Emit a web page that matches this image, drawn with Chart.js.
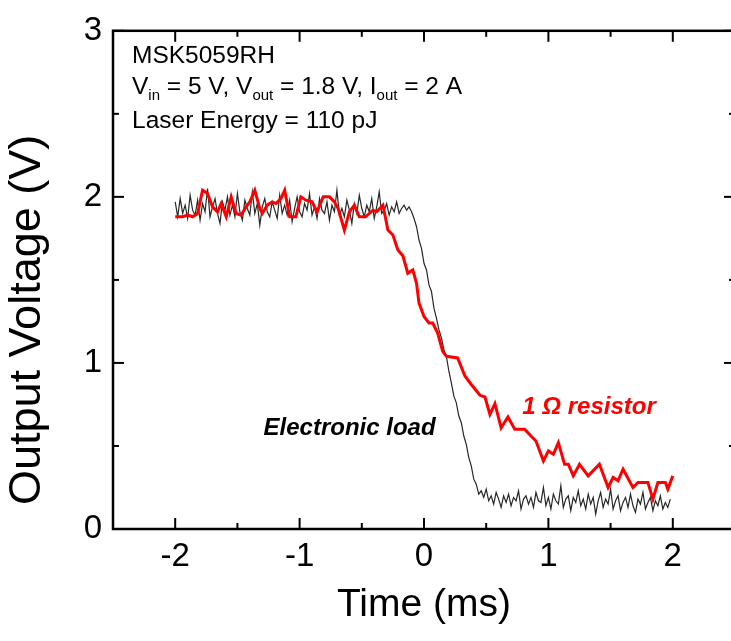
<!DOCTYPE html>
<html><head><meta charset="utf-8">
<script src="https://cdn.jsdelivr.net/npm/chart.js@4.4.1/dist/chart.umd.min.js"></script>
<style>
html,body{margin:0;padding:0;background:#fff;overflow:hidden;}
#wrap{position:relative;width:740px;height:641px;}
</style></head><body>
<div id="wrap"><canvas id="c" width="740" height="641"></canvas></div>
<script>
// ---- data ----
const xTicks = [-2, -1, 0, 1, 2];
const yTicks = [0, 1, 2, 3];
const xMinorTicks = [-1.5, -0.5, 0.5, 1.5];
const yMinorTicks = [0.5, 1.5, 2.5];

// 1 Ω resistor (red)
const redTime = [-2.00,-1.94,-1.90,-1.86,-1.82,-1.78,-1.74,-1.70,-1.66,-1.63,-1.59,-1.55,-1.51,-1.47,-1.43,-1.40,-1.36,-1.32,-1.30,-1.26,-1.22,-1.19,-1.15,-1.12,-1.08,-1.03,-0.99,-0.95,-0.90,-0.86,-0.81,-0.76,-0.72,-0.69,-0.64,-0.60,-0.56,-0.52,-0.47,-0.41,-0.38,-0.33,-0.29,-0.25,-0.21,-0.17,-0.13,-0.09,-0.06,-0.04,0.00,0.04,0.07,0.11,0.15,0.18,0.27,0.33,0.38,0.45,0.49,0.53,0.57,0.62,0.675,0.73,0.81,0.86,0.90,0.96,1.00,1.04,1.08,1.13,1.16,1.20,1.25,1.32,1.41,1.48,1.52,1.56,1.60,1.68,1.72,1.80,1.84,1.88,1.94,1.96,2.00];
const redVolt = [1.88,1.88,1.89,1.88,1.90,2.04,2.02,1.94,1.91,1.96,1.88,2.00,1.90,1.89,1.94,1.97,2.04,1.93,1.90,1.95,1.97,1.96,1.99,2.04,1.88,1.88,2.00,1.98,1.97,1.91,2.00,2.00,1.97,1.93,1.80,1.91,1.95,1.88,1.88,1.92,1.91,1.95,1.80,1.77,1.68,1.645,1.54,1.56,1.48,1.36,1.28,1.24,1.24,1.18,1.07,1.04,1.03,0.92,0.87,0.805,0.795,0.69,0.755,0.61,0.675,0.60,0.60,0.56,0.53,0.41,0.47,0.45,0.52,0.39,0.39,0.32,0.39,0.32,0.39,0.25,0.31,0.29,0.36,0.25,0.28,0.28,0.18,0.28,0.28,0.24,0.32];

// Electronic load (black), sampled every 0.02 ms from -2.00 ms
const blackStart = -2.0;
const blackStep = 0.02;
const blackVolt = [
1.97,1.88,1.99,1.90,1.95,1.87,2.01,1.92,1.89,1.98,
1.86,1.96,1.91,2.05,1.88,1.94,1.99,1.90,1.84,1.97,
1.92,2.00,1.89,1.95,1.88,2.02,1.91,1.86,1.98,1.93,
1.89,2.03,1.90,1.96,1.83,1.94,1.99,1.91,1.88,1.97,
1.92,1.87,2.01,1.90,1.95,1.89,1.98,1.85,1.93,2.00,
1.91,1.88,1.96,1.92,2.02,1.89,1.94,1.87,1.99,1.92,
1.90,1.97,1.86,1.95,1.91,2.04,1.89,1.93,1.88,1.98,
1.92,1.84,1.96,1.90,2.01,1.93,1.88,1.95,1.91,1.99,
1.87,1.94,2.03,1.90,1.92,1.96,1.89,1.94,1.91,1.97,
1.90,1.93,1.95,1.92,1.94,1.91,
1.87,1.82,1.74,1.69,1.60,1.56,1.47,1.43,1.33,1.27,
1.20,1.15,1.08,1.04,0.95,0.88,0.80,0.76,0.68,0.64,
0.56,0.51,0.43,0.38,0.30,0.27,0.21,0.23,
0.19,0.24,0.17,0.20,0.15,0.22,0.18,0.13,0.20,0.16,
0.21,0.14,0.19,0.17,0.23,0.12,0.18,0.20,0.15,0.19,
0.13,0.22,0.17,0.16,0.25,0.14,0.19,0.12,0.21,0.17,
0.15,0.26,0.13,0.18,0.20,0.11,0.19,0.16,0.23,0.14,
0.18,0.12,0.21,0.15,0.19,0.09,0.17,0.22,0.13,0.18,
0.15,0.24,0.12,0.17,0.20,0.11,0.16,0.19,0.13,0.21,
0.14,0.10,0.18,0.15,0.22,0.12,0.16,0.19,0.11,0.17,
0.14,0.20,0.12,0.16,0.13,0.18];

const xTitle = 'Time (ms)';
const yTitle = 'Output Voltage (V)';
const infoLine1 = 'MSK5059RH';
const infoLine2 = [['V',''],['in','sub'],[' = 5 V, V',''],['out','sub'],[' = 1.8 V, I',''],['out','sub'],[' = 2 A','']];
const infoLine3 = 'Laser Energy = 110 pJ';
const labelBlack = 'Electronic load';
const labelRed = '1 \u03A9 resistor';

// ---- build ----
const redData = redTime.map((t, i) => ({x: t, y: redVolt[i]}));
const blackData = blackVolt.map((v, i) => ({x: blackStart + i * blackStep, y: v}));

const FONT = "'Liberation Sans', Arial, Helvetica, sans-serif";

const framePlugin = {
  id: 'frame',
  afterLayout(chart) {
    // lift the y-axis title a little (reference places it slightly above the axis start)
    const s = chart.scales.y;
    if (!s._titlePatched) {
      const orig = Object.getPrototypeOf(s).drawTitle;
      s.drawTitle = function () { this.ctx.save(); this.ctx.translate(0, -24); orig.call(this); this.ctx.restore(); };
      s._titlePatched = true;
    }
  },
  afterDatasetsDraw(chart) {
    const {ctx, chartArea: a, scales: {x, y}} = chart;
    ctx.save();
    ctx.strokeStyle = '#000';
    ctx.lineCap = 'butt';
    ctx.lineWidth = 2.5;
    ctx.strokeRect(a.left, a.top, a.right - a.left, a.bottom - a.top);
    ctx.lineWidth = 2;
    const seg = (x1, y1, x2, y2) => { ctx.beginPath(); ctx.moveTo(x1, y1); ctx.lineTo(x2, y2); ctx.stroke(); };
    const MAJ = 11, MIN = 6;
    xTicks.forEach(v => { const p = x.getPixelForValue(v); seg(p, a.bottom, p, a.bottom - MAJ); seg(p, a.top, p, a.top + MAJ); });
    xMinorTicks.forEach(v => { const p = x.getPixelForValue(v); seg(p, a.bottom, p, a.bottom - MIN); seg(p, a.top, p, a.top + MIN); });
    yTicks.forEach(v => { const p = y.getPixelForValue(v); seg(a.left, p, a.left + MAJ, p); seg(a.right, p, a.right - MAJ, p); });
    yMinorTicks.forEach(v => { const p = y.getPixelForValue(v); seg(a.left, p, a.left + MIN, p); seg(a.right, p, a.right - MIN, p); });
    ctx.restore();
  }
};

const textPlugin = {
  id: 'texts',
  afterDraw(chart) {
    const {ctx, chartArea: a, scales: {x, y}} = chart;
    ctx.save();
    ctx.textBaseline = 'alphabetic';
    ctx.textAlign = 'left';
    ctx.fillStyle = '#000';
    ctx.font = '24.5px ' + FONT;
    const lx = a.left + 19;
    ctx.fillText(infoLine1, lx, a.top + 32);
    let cx = lx;
    infoLine2.forEach(([s, kind]) => {
      if (kind === 'sub') {
        ctx.font = '15px ' + FONT;
        ctx.fillText(s, cx, a.top + 69);
      } else {
        ctx.font = '24.5px ' + FONT;
        ctx.fillText(s, cx, a.top + 63);
      }
      cx += ctx.measureText(s).width;
    });
    ctx.font = '24.5px ' + FONT;
    ctx.fillText(infoLine3, lx, a.top + 97);

    ctx.font = 'italic bold 24px ' + FONT;
    ctx.fillStyle = '#000';
    ctx.fillText(labelBlack, x.getPixelForValue(-1.29), y.getPixelForValue(0.565));
    ctx.fillStyle = '#ff0000';
    ctx.fillText(labelRed, x.getPixelForValue(0.79), y.getPixelForValue(0.69));
    ctx.restore();
  }
};

new Chart(document.getElementById('c'), {
  type: 'line',
  data: {
    datasets: [
      {label: '1 Ω resistor', data: redData, borderColor: '#ff0000', borderWidth: 3, pointRadius: 0, tension: 0, fill: false, order: 0},
      {label: 'Electronic load', data: blackData, borderColor: 'rgba(15,15,15,0.9)', borderWidth: 1.2, pointRadius: 0, tension: 0, fill: false, order: 1}
    ]
  },
  options: {
    responsive: false,
    animation: false,
    events: [],
    layout: {padding: {left: 0, top: 23, right: 5, bottom: 0}},
    plugins: {legend: {display: false}, tooltip: {enabled: false}},
    scales: {
      x: {
        type: 'linear', min: -2.5, max: 2.5,
        afterBuildTicks: s => { s.ticks = xTicks.map(v => ({value: v})); },
        afterFit: s => { s.height = 112; },
        grid: {display: false, drawTicks: false},
        border: {display: false},
        ticks: {color: '#000', padding: 8, font: {family: FONT, size: 33}},
        title: {display: true, text: xTitle, color: '#000', font: {family: FONT, size: 39}, padding: {top: 0, bottom: 12}}
      },
      y: {
        type: 'linear', min: 0, max: 3,
        afterBuildTicks: s => { s.ticks = yTicks.map(v => ({value: v})); },
        afterFit: s => { s.width = 113; },
        grid: {display: false, drawTicks: false},
        border: {display: false},
        ticks: {color: '#000', padding: 11, font: {family: FONT, size: 33}},
        title: {display: true, text: yTitle, align: 'start', color: '#000', font: {family: FONT, size: 45}, padding: {top: 1, bottom: 0}}
      }
    }
  },
  plugins: [framePlugin, textPlugin]
});
</script>
</body></html>
